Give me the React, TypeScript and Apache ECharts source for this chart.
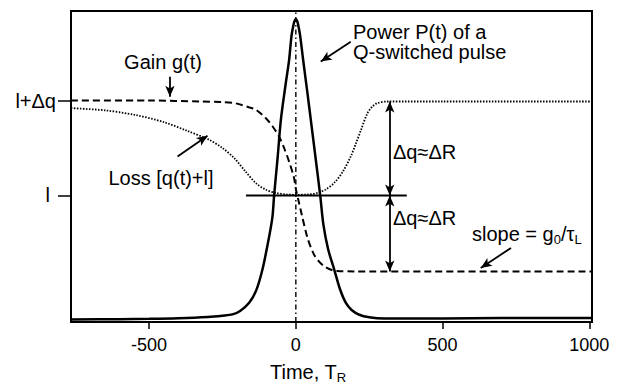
import React, { useEffect, useRef } from "react";
import * as echarts from "echarts";

// Time axis (units of T_R)
const X_MIN = -766;
const X_MAX = 1009;
const Y_MAX = 98.3;
const xTickValues = [-500, 0, 500, 1000];

// Level values: l and l+Δq
const levelL = 40;
const levelLdq = 70;
const yTickValues = [levelL, levelLdq];

// Power P(t) of the Q-switched pulse
const powerT = [-766, -600, -500, -400, -300, -250, -216, -190, -159, -135, -114, -95, -80, -74, -62, -51, -35, -23, -15, -10, -5, 0, 5, 10, 15, 25, 40, 51, 67, 83, 94, 110, 131, 150, 170, 190, 216, 250, 300, 400, 600, 800, 1009];
const powerV = [0.8, 0.9, 1.0, 1.2, 1.6, 2.0, 2.4, 3.5, 6.1, 10, 16.5, 25, 33, 40, 52, 63.9, 75, 82.8, 90.3, 93, 95, 95.7, 95, 93, 90.3, 82.8, 72, 63.9, 52, 40, 30.7, 23, 16.5, 10.5, 6.1, 3.8, 2.3, 1.5, 1.1, 1.1, 1.2, 1.3, 1.3];

// Gain g(t)
const gainT = [-766, -500, -324, -250, -204, -160, -136, -102, -79, -57, -40, -23, -6, 0, 10, 20, 40, 62, 80, 97, 120, 142, 198, 1009];
const gainV = [70, 70, 69.7, 69.5, 69.1, 67.9, 67.1, 64.4, 61.8, 58.6, 55.0, 50.7, 45.5, 42, 38, 34, 26.5, 21.3, 19, 17.6, 16.5, 16.1, 16, 16];

// Loss q(t)+l
const lossT = [-766, -650, -550, -450, -370, -300, -250, -210, -170, -136, -102, -68, -30, 0, 40, 74, 100, 130, 160, 187, 205, 222, 244, 262, 278, 312, 500, 1009];
const lossV = [67.6, 66.9, 65.5, 63.2, 60.4, 57.8, 55, 51.8, 47.4, 43.9, 41.8, 40.8, 40.3, 40.2, 40.3, 40.8, 41.8, 43.9, 47.5, 52.3, 56.5, 60.7, 66, 68.2, 69.2, 69.7, 69.7, 69.7];

// Horizontal reference line at level l
const lLineT = [-170, 378];

const gainFinal = 16;
const lossFinal = 69.7;
const dimT = 320;

const FONT = "'Liberation Sans', Arial, Helvetica, sans-serif";

const zip = (a: number[], b: number[]) => a.map((v, i) => [v, b[i]]);

export default function App() {
  const ref = useRef<HTMLDivElement>(null);
  useEffect(() => {
    document.body.style.margin = "0";
    const chart = echarts.init(ref.current!, null, { renderer: "svg" });
    const arrow = (x1: number, y1: number, x2: number, y2: number, both = false) => [
      { coord: [x1, y1], symbol: both ? "arrow" : "none" },
      { coord: [x2, y2], symbol: "arrow" },
    ];
    const txt = (text: string, x: number, y: number, align = "left", rich?: any) => ({
      type: "text",
      x,
      y,
      silent: true,
      style: {
        text,
        fill: "#000",
        fontSize: 20,
        fontFamily: FONT,
        align,
        verticalAlign: "middle",
        rich,
      },
    });
    const subRich = {
      n: { fontSize: 20, fontFamily: FONT, lineHeight: 24, fill: "#000" },
      s: { fontSize: 13, fontFamily: FONT, lineHeight: 14, verticalAlign: "bottom", fill: "#000" },
    };
    chart.setOption({
      animation: false,
      grid: { left: 71, right: 26, top: 11, bottom: 65, show: true, borderColor: "#000", borderWidth: 2, backgroundColor: "transparent" },
      xAxis: {
        type: "value",
        min: X_MIN,
        max: X_MAX,
        axisLine: { show: true, onZero: false, lineStyle: { color: "#000", width: 2 } },
        axisTick: { show: true, length: 7, inside: false, customValues: xTickValues, lineStyle: { color: "#000", width: 1.5 } },
        axisLabel: { customValues: xTickValues, color: "#000", fontSize: 18, fontFamily: FONT, margin: 14, formatter: (v: number) => String(v) },
        splitLine: { show: false },
      },
      yAxis: {
        type: "value",
        min: 0,
        max: Y_MAX,
        axisLine: { show: true, onZero: false, lineStyle: { color: "#000", width: 2 } },
        axisTick: { show: true, length: 13, inside: false, customValues: yTickValues, lineStyle: { color: "#000", width: 1.5 } },
        axisLabel: {
          customValues: yTickValues,
          margin: 15,
          formatter: (v: number) => (v === levelLdq ? "{a|l+Δq}" : "{b|l}"),
          rich: {
            a: { fontSize: 20, fontFamily: FONT, color: "#000" },
            b: { fontSize: 20, fontFamily: FONT, color: "#000", padding: [0, 6, 0, 0] },
          },
        },
        splitLine: { show: false },
      },
      series: [
        {
          type: "line",
          name: "t0",
          data: [[0, 0], [0, Y_MAX]],
          symbol: "none",
          lineStyle: { color: "#000", width: 1.4, type: [5, 3, 1.5, 3] },
          silent: true,
        },
        {
          type: "line",
          name: "Loss",
          data: zip(lossT, lossV),
          smooth: 0.3,
          symbol: "none",
          lineStyle: { color: "#000", width: 1.8, type: [1.5, 1.5] },
          silent: true,
        },
        {
          type: "line",
          name: "Gain",
          data: zip(gainT, gainV),
          smooth: 0.3,
          symbol: "none",
          lineStyle: { color: "#000", width: 2, type: [7, 4] },
          silent: true,
        },
        {
          type: "line",
          name: "Power",
          data: zip(powerT, powerV),
          smooth: 0.3,
          symbol: "none",
          lineStyle: { color: "#000", width: 2.5 },
          silent: true,
        },
        {
          type: "line",
          name: "l",
          data: lLineT.map((t) => [t, levelL]),
          symbol: "none",
          lineStyle: { color: "#000", width: 2 },
          silent: true,
          markLine: {
            silent: true,
            animation: false,
            symbolSize: [7, 11],
            label: { show: false },
            emphasis: { disabled: true },
            lineStyle: { color: "#000", width: 1.8, type: "solid" },
            data: [
              arrow(dimT, levelL, dimT, lossFinal, true),
              arrow(dimT, levelL, dimT, gainFinal, true),
              arrow(-429, 77.5, -429, 71.2),
              arrow(-403, 52.3, -301, 58.9),
              arrow(187, 88.6, 85, 82.3),
              arrow(733, 23.4, 630, 17.1),
            ],
          },
        },
      ],
      graphic: [
        txt("Gain g(t)", 163, 61.7, "center"),
        txt("Loss [q(t)+l]", 161, 178, "center"),
        txt("Power P(t) of a", 353, 31.7),
        txt("Q-switched pulse", 353, 51.7),
        txt("Δq≈ΔR", 393, 151.7),
        txt("Δq≈ΔR", 393, 218),
        txt("{n|slope = g}{s|0}{n|/τ}{s|L}", 472, 234, "left", subRich),
        txt("{n|Time, T}{s|R}", 308, 372, "center", subRich),
      ],
    });
    return () => chart.dispose();
  }, []);
  return <div ref={ref} style={{ width: 618, height: 387 }} />;
}
